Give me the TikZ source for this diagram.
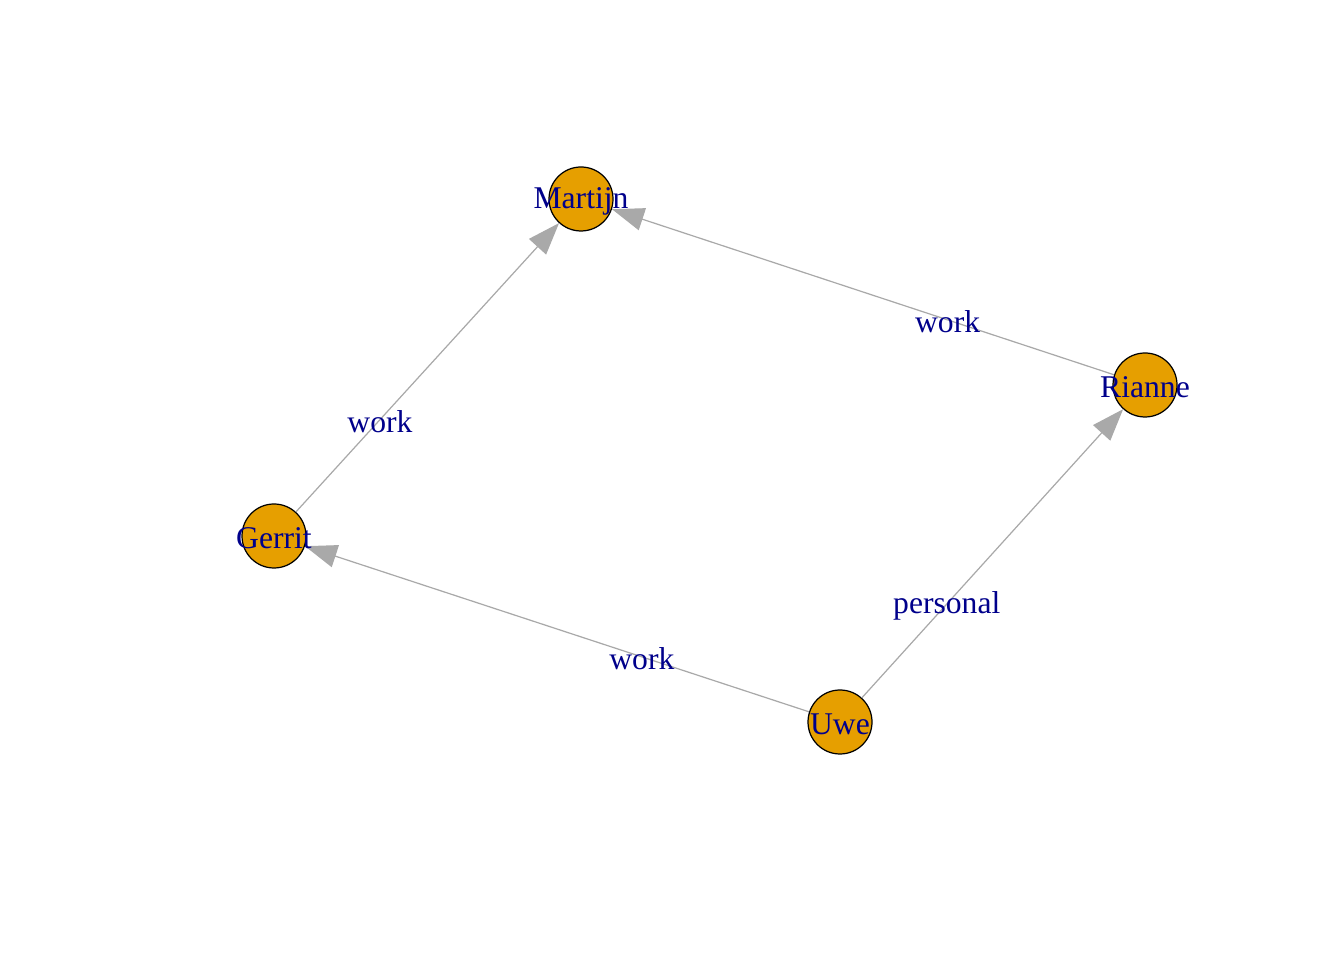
\documentclass[tikz,border=0pt]{standalone}
\usepackage{fontspec}
\setmainfont{Liberation Serif}
\usepackage{tikz}
\usetikzlibrary{arrows.meta,calc}

\definecolor{vfill}{HTML}{E69F00}
\definecolor{elabel}{HTML}{00008B}
\definecolor{eline}{HTML}{A9A9A9}

\tikzset{
    vertex/.style={circle, draw=black, line width=0.7pt, fill=vfill, minimum size=1.28cm, inner sep=0pt},
    vname/.style={text=elabel, font=\fontsize{18}{20}\selectfont, inner sep=0pt, yshift=-0.04cm},
    elab/.style={text=elabel, font=\fontsize{18}{20}\selectfont, inner sep=0pt, yshift=-0.04cm},
    link/.style={draw=eline, line width=0.7pt, -{Triangle[length=0.64cm, width=0.46cm]}}
}

\begin{document}
\begin{tikzpicture}
            \useasboundingbox (0,0) rectangle (26.88,19.2); % page
            \node[vertex] (martijn) at (11.62,15.22) {}; % Martijn
            \node[vertex] (rianne) at (22.90,11.50) {}; % Rianne
            \node[vertex] (gerrit) at (5.48,8.48) {}; % Gerrit
            \node[vertex] (uwe) at (16.80,4.76) {}; % Uwe
            \draw[link] (gerrit) -- (martijn);
            \draw[link] (rianne) -- (martijn);
            \draw[link] (uwe) -- (gerrit);
            \draw[link] (uwe) -- (rianne);
            \node[elab] (gm) at ($(gerrit)!0.345!(martijn)$) {work};
            \node[elab] (rm) at ($(rianne)!0.35!(martijn)$) {work};
            \node[elab] (ug) at ($(uwe)!0.35!(gerrit)$) {work};
            \node[elab] (ur) at ($(uwe)!0.35!(rianne)$) {personal};
            \node[vname] (martijnname) at (martijn) {Martijn};
            \node[vname] (riannename) at (rianne) {Rianne};
            \node[vname] (gerritname) at (gerrit) {Gerrit};
            \node[vname] (uwename) at (uwe) {Uwe};
        \end{tikzpicture}
\end{document}
